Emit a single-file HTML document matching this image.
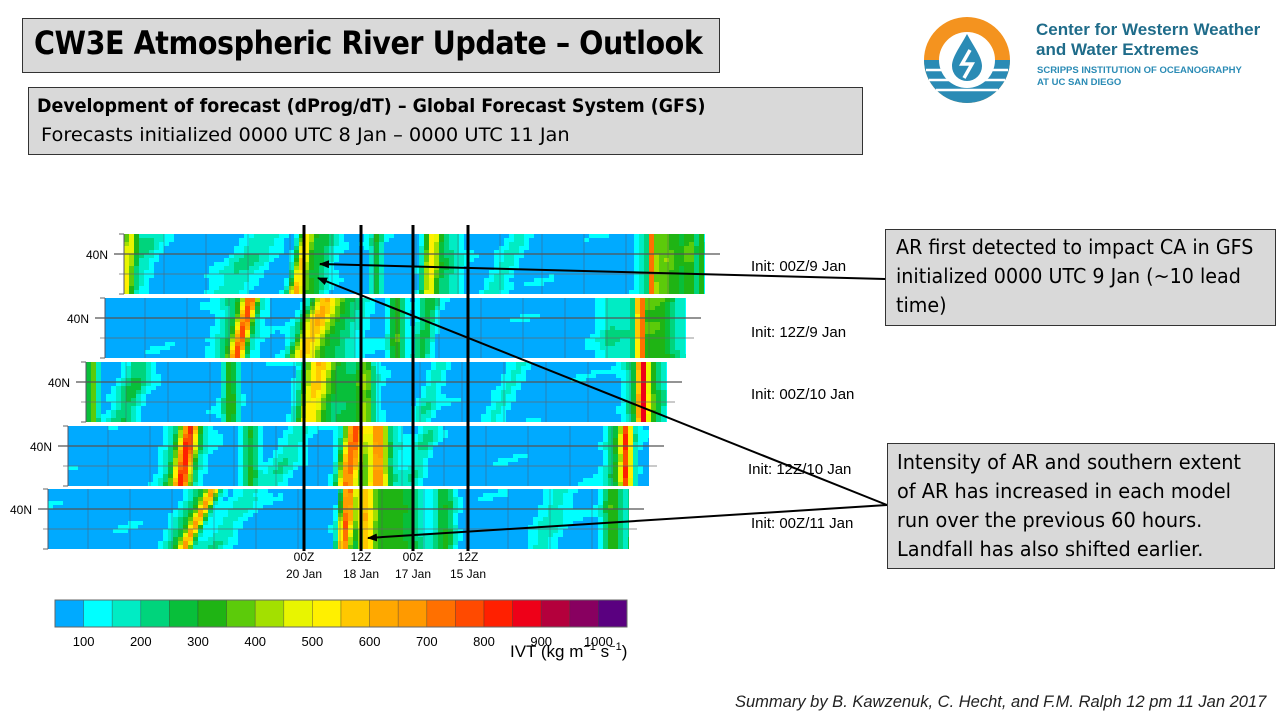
<!DOCTYPE html>
<html><head><meta charset="utf-8"><style>
body{margin:0;width:1280px;height:720px;background:#fff;position:relative;overflow:hidden;font-family:"Liberation Sans",sans-serif}
.box{position:absolute;background:#d9d9d9;border:1px solid #333;box-sizing:border-box}
.t{position:absolute;white-space:nowrap}
</style></head><body>
<div class="box" style="left:22px;top:18px;width:698px;height:55px"></div>
<div class="t" style="left:34px;top:24px;font-size:32px;font-weight:bold;color:#000;font-family:'DejaVu Sans',sans-serif;letter-spacing:-0.5px;transform:scale(0.893,1);transform-origin:left">CW3E Atmospheric River Update – Outlook</div>
<div class="box" style="left:28px;top:87px;width:835px;height:68px"></div>
<div class="t" style="left:37px;top:95px;font-size:19px;font-weight:bold;font-family:'DejaVu Sans',sans-serif;transform:scale(0.919,1);transform-origin:left">Development of forecast (dProg/dT) – Global Forecast System (GFS)</div>
<div class="t" style="left:41px;top:124px;font-size:19px;font-family:'DejaVu Sans',sans-serif;transform:scale(1.02,1);transform-origin:left">Forecasts initialized 0000 UTC 8 Jan – 0000 UTC 11 Jan</div>

<svg style="position:absolute;left:922px;top:12px" width="90" height="96">
<circle cx="45" cy="48" r="43" fill="#f4931f"/>
<path d="M2,48 A43,43 0 0 0 88,48 Z" fill="#2a8bb5"/>
<g stroke="#fff" stroke-width="2.5"><line x1="4" y1="58" x2="86" y2="58"/><line x1="7" y1="68" x2="83" y2="68"/><line x1="14" y1="78" x2="76" y2="78"/></g>
<circle cx="45" cy="48" r="28" fill="#fff"/>
<path d="M45,22 C38,35 30,45 30,54 A15,15 0 0 0 60,54 C60,45 52,35 45,22Z" fill="#2a8bb5"/>
<path d="M48,38 L40,52 L50,52 L42,66" stroke="#fff" stroke-width="3.5" fill="none"/>
</svg>
<div class="t" style="left:1036px;top:20px;font-size:17px;color:#1f6c8a;font-weight:bold;line-height:20px">Center for Western Weather<br>and Water Extremes</div>
<div class="t" style="left:1037px;top:65px;font-size:9.5px;color:#2a8bb5;font-weight:bold;line-height:12px">SCRIPPS INSTITUTION OF OCEANOGRAPHY<br>AT UC SAN DIEGO</div>

<svg id="hm" style="position:absolute;left:0;top:0" width="1280" height="720"></svg>

<div class="box" style="left:885px;top:229px;width:391px;height:97px"></div>
<div class="t" style="left:896px;top:233px;font-size:20px;line-height:29px;font-family:'DejaVu Sans',sans-serif;transform:scale(0.955,1);transform-origin:left">AR first detected to impact CA in GFS<br>initialized 0000 UTC 9 Jan (~10 lead<br>time)</div>
<div class="box" style="left:887px;top:443px;width:388px;height:126px"></div>
<div class="t" style="left:897px;top:448px;font-size:20px;line-height:29px;font-family:'DejaVu Sans',sans-serif;transform:scale(0.965,1);transform-origin:left">Intensity of AR and southern extent<br>of AR has increased in each model<br>run over the previous 60 hours.<br>Landfall has also shifted earlier.</div>

<div class="t" style="left:735px;top:693px;font-size:16.5px;font-style:italic;color:#222">Summary by B. Kawzenuk, C. Hecht, and F.M. Ralph 12 pm 11 Jan 2017</div>

<script>
var svg=document.getElementById('hm'),h='';
var cols=["#00aaff","#00ffff","#00ecc4","#00d47c","#08bf3a","#1fb414","#5ccb0a","#a3e000","#e8f500","#fff000","#ffc800","#ffa800","#ff9a00","#ff7000","#ff4a00","#ff2000","#ee0018","#b4003c","#880060","#5a0080"];
function cm(v){var i=Math.floor((v-50)/50);if(i<0)i=0;if(i>19)i=19;return cols[i];}
var P=[
{x:124,y:234,r:[[130,-8,8,380],[150,-20,14,120],[265,-40,22,120],[306,-12,7,400],[322,-15,16,220],[376,0,6,200],[432,-4,8,380],[445,0,16,150],[520,-30,12,110],[665,0,22,300],[652,0,3,500],[703,0,2,550],[690,0,8,200]]},
{x:105,y:298,r:[[250,-15,7,500],[245,-15,20,220],[325,-25,14,430],[345,-20,25,200],[396,0,8,260],[430,-10,10,200],[640,0,4,550],[655,0,25,290],[610,0,14,110]]},
{x:86,y:362,r:[[92,0,6,300],[140,-20,14,180],[230,0,8,260],[318,-10,14,440],[340,10,28,190],[365,0,8,220],[440,-20,10,110],[642,0,5,500],[645,0,18,320],[520,-30,12,100]]},
{x:68,y:426,r:[[190,-10,8,500],[188,-10,18,260],[250,0,8,230],[355,-10,10,560],[378,0,8,380],[372,0,24,260],[430,-20,10,120],[626,0,5,520],[620,0,14,260],[300,-30,14,110]]},
{x:48,y:489,r:[[212,-30,6,420],[205,-30,16,220],[348,-5,7,640],[365,0,10,420],[395,0,28,270],[445,0,10,220],[250,-40,14,110],[612,0,10,280],[628,0,2,450],[560,-20,16,100]]}];
P.forEach(function(p,k){
 var W=581,H=60,cw=5,ch=4;
 for(var j=0;j<H/ch;j++)for(var i=0;i<W/cw+1;i++){
  var x=p.x+i*cw,t=(j*ch)/H,v=60+45*Math.max(0,Math.sin(x*0.045+j*0.5+k)*Math.sin(x*0.013-j*0.2+k*2));
  p.r.forEach(function(r){var d=(x+2-(r[0]+r[1]*t))/r[2];v+=r[3]*Math.exp(-d*d);});
  var w=Math.min(cw,p.x+W-x);if(w<=0)continue;
  h+='<rect x="'+x+'" y="'+(p.y+j*ch)+'" width="'+w+'" height="'+ch+'" fill="'+cm(v)+'"/>';
 }
 for(var g=p.x+40;g<p.x+W;g+=42)h+='<line x1="'+g+'" y1="'+p.y+'" x2="'+g+'" y2="'+(p.y+H)+'" stroke="#556" stroke-opacity="0.45" stroke-width="1"/>';
 h+='<line x1="'+(p.x-10)+'" y1="'+(p.y+20)+'" x2="'+(p.x+W+15)+'" y2="'+(p.y+20)+'" stroke="#555" stroke-width="1.2"/>';
 h+='<line x1="'+(p.x-5)+'" y1="'+(p.y+40)+'" x2="'+(p.x+W+8)+'" y2="'+(p.y+40)+'" stroke="#666" stroke-opacity="0.7" stroke-width="1"/>';
 h+='<line x1="'+(p.x-5)+'" y1="'+p.y+'" x2="'+p.x+'" y2="'+p.y+'" stroke="#666"/><line x1="'+(p.x-5)+'" y1="'+(p.y+H)+'" x2="'+p.x+'" y2="'+(p.y+H)+'" stroke="#666"/>';
 h+='<line x1="'+p.x+'" y1="'+p.y+'" x2="'+p.x+'" y2="'+(p.y+H)+'" stroke="#556" stroke-width="1"/>';
 h+='<text x="'+(p.x-16)+'" y="'+(p.y+25)+'" font-size="12" text-anchor="end" font-family="Liberation Sans">40N</text>';
});
[304,361,413,468].forEach(function(x){h+='<line x1="'+x+'" y1="225" x2="'+x+'" y2="551" stroke="#000" stroke-width="3"/>';});
[[304,"00Z","20 Jan"],[361,"12Z","18 Jan"],[413,"00Z","17 Jan"],[468,"12Z","15 Jan"]].forEach(function(a){
 h+='<text x="'+a[0]+'" y="561" font-size="12" text-anchor="middle" font-family="Liberation Sans">'+a[1]+'</text><text x="'+a[0]+'" y="578" font-size="12" text-anchor="middle" font-family="Liberation Sans">'+a[2]+'</text>';});
for(var i=0;i<20;i++)h+='<rect x="'+(55+i*28.6)+'" y="600" width="28.6" height="27" fill="'+cols[i]+'" stroke="#333" stroke-opacity="0.5" stroke-width="0.6"/>';
h+='<rect x="55" y="600" width="572" height="27" fill="none" stroke="#666" stroke-width="1"/>';
for(var i=1;i<=10;i++)h+='<text x="'+(55+i*57.2-28.6)+'" y="646" font-size="13" text-anchor="middle" font-family="Liberation Sans">'+(i*100)+'</text>';
h+='<text x="510" y="657" font-size="17" font-family="Liberation Sans">IVT (kg m<tspan dy="-7" font-size="11">−1</tspan><tspan dy="7"> s</tspan><tspan dy="-7" font-size="11">−1</tspan><tspan dy="7">)</tspan></text>';
[[751,271,"Init: 00Z/9 Jan"],[751,337,"Init: 12Z/9 Jan"],[751,399,"Init: 00Z/10 Jan"],[748,474,"Init: 12Z/10 Jan"],[751,528,"Init: 00Z/11 Jan"]].forEach(function(a){
 h+='<text x="'+a[0]+'" y="'+a[1]+'" font-size="15" font-family="Liberation Sans">'+a[2]+'</text>';});
h+='<defs><marker id="ah" markerWidth="10" markerHeight="8" refX="9" refY="4" orient="auto" markerUnits="userSpaceOnUse"><path d="M0,0 L10,4 L0,8 Z"/></marker></defs>';
h+='<line x1="885" y1="279" x2="320" y2="264" stroke="#000" stroke-width="2" marker-end="url(#ah)"/>';
h+='<line x1="887" y1="505" x2="318" y2="278" stroke="#000" stroke-width="2" marker-end="url(#ah)"/>';
h+='<line x1="887" y1="505" x2="368" y2="538" stroke="#000" stroke-width="2" marker-end="url(#ah)"/>';
svg.innerHTML=h;
</script>
</body></html>
